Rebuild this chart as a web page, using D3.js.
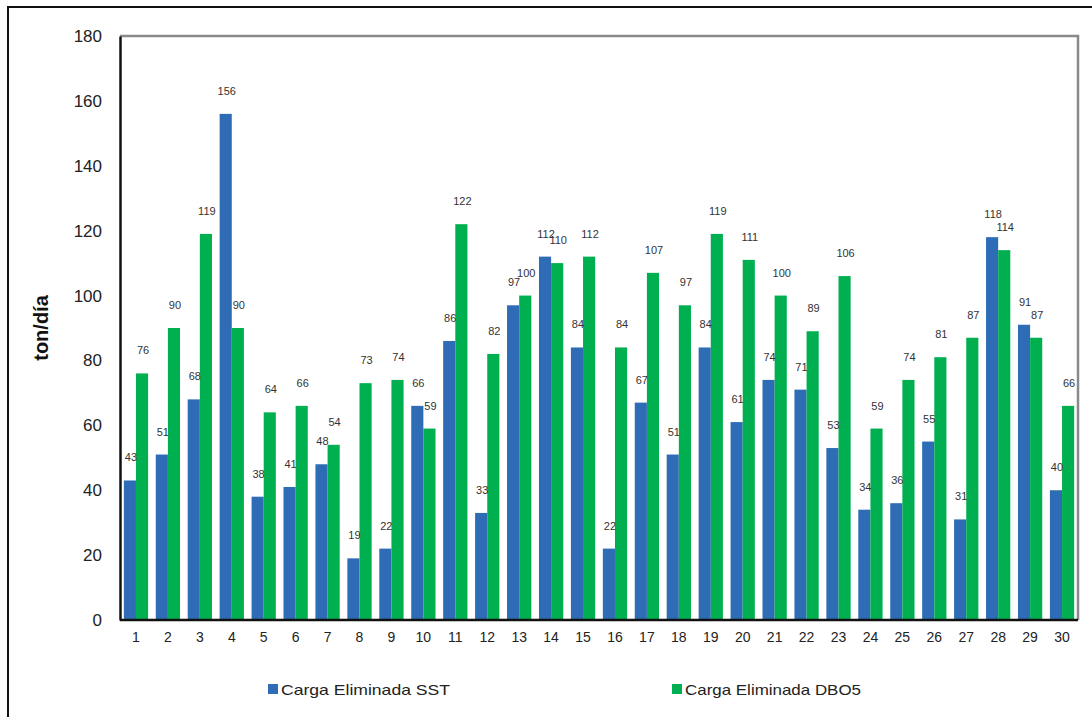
<!DOCTYPE html>
<html><head><meta charset="utf-8">
<script src="https://cdn.jsdelivr.net/npm/d3@7"></script>
<style>body{margin:0;background:#fff}svg{display:block}</style>
</head><body>
<script>
const categories = d3.range(1, 31).map(String);
const sst = [43,51,68,156,38,41,48,19,22,66,86,33,97,112,84,22,67,51,84,61,74,71,53,34,36,55,31,118,91,40];
const dbo5 = [76,90,119,90,64,66,54,73,74,59,122,82,100,110,112,84,107,97,119,111,100,89,106,59,74,81,87,114,87,66];
const yTicks = [0,20,40,60,80,100,120,140,160,180];
const seriesNames = ["Carga Eliminada SST","Carga Eliminada DBO5"];
const colors = ["#2E6DB6","#00B050"];

(function(){
const W = 1092, H = 717;
const svg = d3.select("body").append("svg").attr("width", W).attr("height", H);
svg.append("rect").attr("width", W).attr("height", H).attr("fill", "#fff");
svg.append("rect").attr("x", 8).attr("y", 7).attr("width", 1100).attr("height", 730)
  .attr("fill", "none").attr("stroke", "#111").attr("stroke-width", 2);

const pL = 120, pR = 1078, pT = 36, pB = 620;
const x0 = d3.scaleBand().domain(categories).range([pL, pR]).paddingInner(0.24).paddingOuter(0.12);
const x1 = d3.scaleBand().domain([0,1]).range([0, x0.bandwidth()]);
const y = d3.scaleLinear().domain([0, 180]).range([pB, pT]);

svg.append("path").attr("d", `M${pL},${pT}H${pR}V${pB}`).attr("fill","none")
  .attr("stroke", "#8a8a8a").attr("stroke-width", 2.5);

const data = categories.map((c, i) => ({c, v: [sst[i], dbo5[i]]}));
const g = svg.append("g").selectAll("g").data(data).join("g")
  .attr("transform", d => `translate(${x0(d.c)},0)`);
g.selectAll("rect").data(d => d.v.map((v, k) => ({v, k}))).join("rect")
  .attr("x", d => x1(d.k)).attr("width", x1.bandwidth())
  .attr("y", d => y(d.v)).attr("height", d => pB - y(d.v))
  .attr("fill", d => colors[d.k]);
g.selectAll("text").data(d => d.v.map((v, k) => ({v, k}))).join("text")
  .attr("x", d => x1(d.k) + x1.bandwidth()/2 + 1).attr("y", d => y(d.v) - 19)
  .attr("text-anchor", "middle").attr("font-family", "Liberation Sans, Arial, sans-serif")
  .attr("font-size", 11).attr("fill", "#333").text(d => d.v);

const yAxis = d3.axisLeft(y).tickValues(yTicks).tickSize(0).tickPadding(18);
const ya = svg.append("g").attr("transform", `translate(${pL},0)`).call(yAxis);
ya.select(".domain").attr("stroke", "#111").attr("stroke-width", 2.5);
ya.selectAll("text").attr("font-family", "Liberation Sans, Arial, sans-serif").attr("font-size", 17).attr("fill", "#222");

const xAxis = d3.axisBottom(x0).tickSize(0).tickPadding(12);
const xa = svg.append("g").attr("transform", `translate(0,${pB})`).call(xAxis);
xa.select(".domain").attr("stroke", "#111").attr("stroke-width", 2.5).attr("d", `M${pL},0H${pR}`);
xa.selectAll("text").attr("font-family", "Liberation Sans, Arial, sans-serif").attr("font-size", 14).attr("fill", "#222");

svg.append("text").attr("transform", `translate(48,${(pT+pB)/2}) rotate(-90)`)
  .attr("text-anchor", "middle").attr("font-family", "Liberation Sans, Arial, sans-serif")
  .attr("font-size", 20).attr("font-weight", "bold").attr("fill", "#111").text("ton/día");

const legX = [268, 672];
const lg = svg.append("g").selectAll("g").data(seriesNames).join("g")
  .attr("transform", (d, i) => `translate(${legX[i]},689)`);
lg.append("rect").attr("x", 0).attr("y", -5).attr("width", 10).attr("height", 10).attr("fill", (d, i) => colors[i]);
lg.append("text").attr("x", 13).attr("y", 5.5).attr("font-family", "Liberation Sans, Arial, sans-serif")
  .attr("font-size", 15).attr("fill", "#222").attr("lengthAdjust", "spacingAndGlyphs")
  .attr("textLength", (d,i)=> i===0?169:176).text(d => d);
})();
</script>
</body></html>
